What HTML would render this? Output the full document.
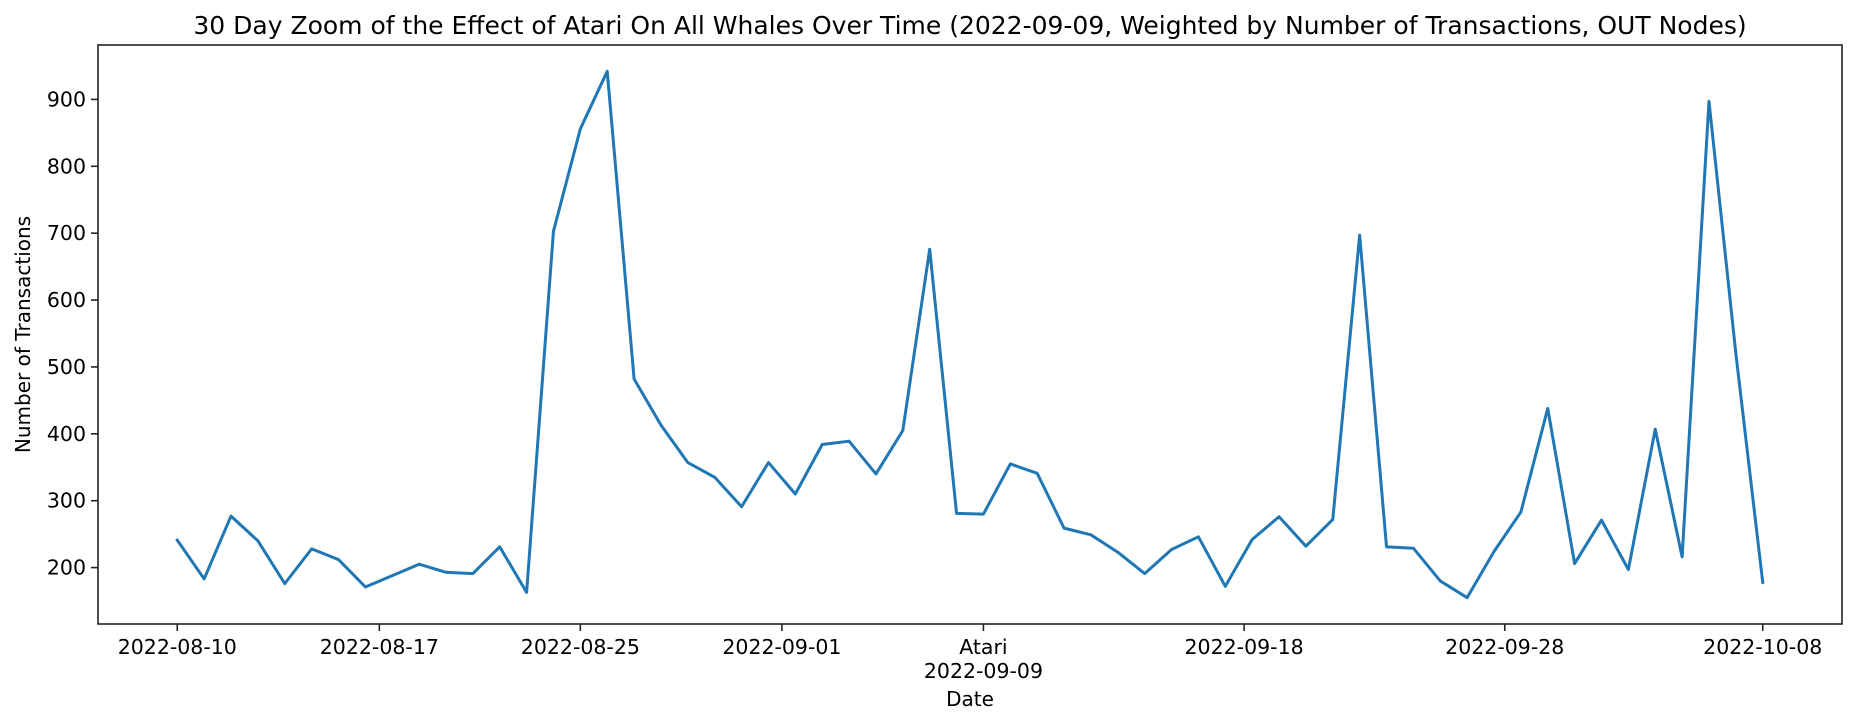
<!DOCTYPE html>
<html><head><meta charset="utf-8"><style>
html,body{margin:0;padding:0;background:#fff;}
svg{display:block;font-family:"DejaVu Sans","Liberation Sans",sans-serif;}
</style></head><body>
<svg id="chart" width="1856" height="725" viewBox="0 0 1856 725" xmlns="http://www.w3.org/2000/svg">
<rect width="1856" height="725" fill="#fff"/>
<text x="970" y="34" font-size="25" text-anchor="middle" fill="#000">30 Day Zoom of the Effect of Atari On All Whales Over Time (2022-09-09, Weighted by Number of Transactions, OUT Nodes)</text>
<g id="yticks"></g>
<g id="xticks"></g>
<path id="series" fill="none" stroke="#1f77b4" stroke-width="3" stroke-linejoin="round" stroke-linecap="square"/>
<rect x="98" y="45" width="1744" height="579" fill="none" stroke="#222" stroke-width="1.6"/>
<text x="970" y="706" font-size="20" text-anchor="middle" fill="#000">Date</text>
<text transform="translate(30,334.5) rotate(-90)" font-size="20" text-anchor="middle" fill="#000">Number of Transactions</text>
</svg>
<script>
const values = [241,183,277,240,176,228,212,171,188,205,193,191,231,163,703,856,942,482,413,357,335,291,357,310,384,389,340,405,676,281,280,355,341,259,249,223,191,227,246,172,242,276,232,272,697,231,229,180,155,224,283,438,206,271,197,407,216,897,520,178];
const yTicks = [200,300,400,500,600,700,800,900];
const xTickPos = [0,7.52,15,22.5,30,39.7,49.4,59];
const xTickLabels = [["2022-08-10"],["2022-08-17"],["2022-08-25"],["2022-09-01"],["Atari","2022-09-09"],["2022-09-18"],["2022-09-28"],["2022-10-08"]];

const NS="http://www.w3.org/2000/svg";
const L=98,R=1842,T=45,B=624;
const n=values.length;
const xmin=-(n-1)*0.05, xmax=(n-1)*1.05;
const dmin=Math.min(...values), dmax=Math.max(...values);
const ymin=dmin-(dmax-dmin)*0.05, ymax=dmax+(dmax-dmin)*0.05;
function xs(i){return L+(i-xmin)/(xmax-xmin)*(R-L);}
function ys(v){return B-(v-ymin)/(ymax-ymin)*(B-T);}
let d="";
values.forEach((v,i)=>{d+=(i?"L":"M")+xs(i).toFixed(2)+","+ys(v).toFixed(2);});
document.getElementById('series').setAttribute('d',d);
const yg=document.getElementById('yticks');
yTicks.forEach(t=>{
  const y=ys(t);
  const ln=document.createElementNS(NS,'line');
  
  
  ln.setAttribute('x1',L-7);ln.setAttribute('x2',L);ln.setAttribute('y1',y);ln.setAttribute('y2',y);
  ln.setAttribute('stroke','#222');ln.setAttribute('stroke-width','1.6');
  yg.appendChild(ln);
  const tx=document.createElementNS(NS,'text');
  
  
  tx.setAttribute('x',L-12);tx.setAttribute('y',y+7);
  tx.setAttribute('font-size','20.5');tx.setAttribute('text-anchor','end');
  tx.textContent=t;
  yg.appendChild(tx);
});
const xg=document.getElementById('xticks');
xTickPos.forEach((p,k)=>{
  const x=xs(p);
  const ln=document.createElementNS(NS,'line');
  
  
  ln.setAttribute('x1',x);ln.setAttribute('x2',x);ln.setAttribute('y1',B);ln.setAttribute('y2',B+7);
  ln.setAttribute('stroke','#222');ln.setAttribute('stroke-width','1.6');
  xg.appendChild(ln);
  xTickLabels[k].forEach((s,j)=>{
    const tx=document.createElementNS(NS,'text');
    
    
    tx.setAttribute('x',x);tx.setAttribute('y',654+j*24);
    tx.setAttribute('font-size','20.5');tx.setAttribute('text-anchor','middle');
    tx.textContent=s;
    xg.appendChild(tx);
  });
});
</script>
</body></html>
